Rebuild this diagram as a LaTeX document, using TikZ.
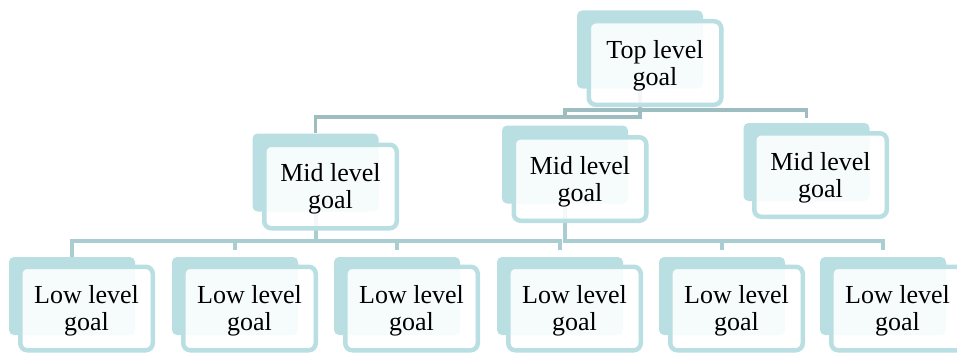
\documentclass[tikz,border=0pt]{standalone}
\usepackage{fontspec}
\setmainfont{Liberation Serif}
\definecolor{boxc}{HTML}{B9DFE3}
\definecolor{connA}{HTML}{9DBDC1}
\definecolor{connB}{HTML}{AACDD1}
\tikzset{
  backbox/.style={fill=boxc, draw=none, rounded corners=5pt, minimum width=126pt, minimum height=78pt, inner sep=0pt},
  frontbox/.style={draw=boxc, line width=4.5pt, fill=white, fill opacity=0.88, rounded corners=7pt,
     minimum width=132.5pt, minimum height=83.5pt, inner sep=0pt},
  goaltext/.style={align=center, inner sep=0pt, font=\fontsize{26}{27}\selectfont},
  conntop/.style={draw=connA, line width=3.5pt},
  connlow/.style={draw=connB, line width=4pt},
}
\begin{document}
\begin{tikzpicture}[x=1pt,y=-1pt]
\useasboundingbox (0,0) rectangle (957,353);
\clip (0,0) rectangle (957,353);
% back boxes
\node[backbox] (tb) at (640,49.5) {};
\node[backbox] (m1b) at (315.5,172.5) {};
\node[backbox] (m2b) at (565,164.5) {};
\node[backbox] (m3b) at (806.5,162) {};
\foreach \i/\x in {1/72,2/235,3/397,4/560,5/722,6/883}{
  \node[backbox] (l\i b) at (\x,296) {};
}
% connectors top level
\draw[conntop] (tb.south) -- (tb.south |- 0,117) -| (m1b.north);
\draw[conntop] (m2b.north |- 0,117) -- (m2b.north |- 0,110) -| (m3b.north |- 0,118);
% connectors lower level
\draw[connlow] (m1b.south) -- (m1b.south |- 0,241);
\draw[connlow] (l1b.north) -- (l1b.north |- 0,241) -- (l4b.north |- 0,241) -- (l4b.north |- 0,250);
\draw[connlow] (l2b.north |- 0,241) -- (l2b.north |- 0,250);
\draw[connlow] (l3b.north |- 0,241) -- (l3b.north |- 0,250);
\draw[connlow] (m2b.south) -- (m2b.south |- 0,241) -- (l6b.north |- 0,241) -- (l6b.north |- 0,250);
\draw[connlow] (l5b.north |- 0,241) -- (l5b.north |- 0,250);
% front boxes
\node[frontbox] (t) at (655,63) {};
\node[goaltext] (tt) at (655,65.5) {Top level\\goal};
\node[frontbox] (m1) at (330.5,186.5) {};
\node[goaltext] (m1t) at (330.5,189) {Mid level\\goal};
\node[frontbox] (m2) at (580,179) {};
\node[goaltext] (m2t) at (580,181.5) {Mid level\\goal};
\node[frontbox] (m3) at (820.5,175) {};
\node[goaltext] (m3t) at (820.5,177.5) {Mid level\\goal};
\foreach \i/\x in {1/86.5,2/249.5,3/411.5,4/574.5,5/736.5,6/897.5}{
  \node[frontbox] (l\i) at (\x,308.5) {};
  \node[goaltext] (l\i t) at (\x,311) {Low level\\goal};
}
\end{tikzpicture}
\end{document}
